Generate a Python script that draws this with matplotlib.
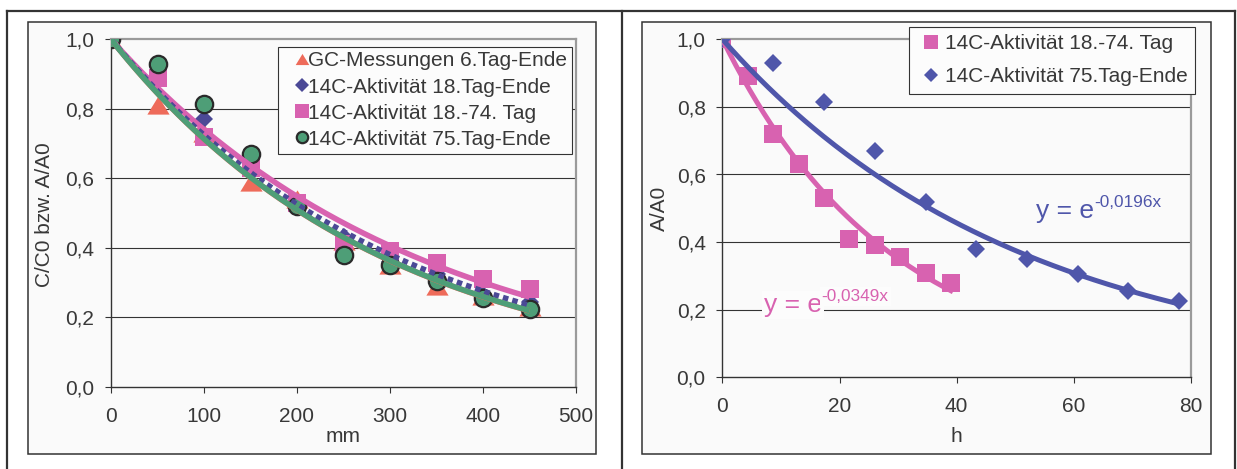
import numpy as np
import matplotlib
matplotlib.use("Agg")
import matplotlib.pyplot as plt
from matplotlib.patches import Rectangle
from matplotlib.lines import Line2D

plt.rcParams['font.family'] = ['Liberation Sans', 'DejaVu Sans']

# column positions (mm) and normalised concentrations / activities
mm_pos = [0, 50, 100, 150, 200, 250, 300, 350, 400, 450]
gc_6_ende = [1.0, 0.81, 0.73, 0.59, 0.54, 0.42, 0.35, 0.29, 0.26, 0.23]
act_18_ende = [1.0, 0.92, 0.77, 0.645, 0.53, 0.43, 0.36, 0.325, 0.265, 0.245]
act_18_74 = [1.0, 0.89, 0.72, 0.63, 0.53, 0.41, 0.39, 0.355, 0.31, 0.28]
act_75_ende = [1.0, 0.93, 0.815, 0.67, 0.52, 0.38, 0.35, 0.305, 0.255, 0.225]

# same activities against time (h)
hours_18_74 = [0, 4.3, 8.7, 13.0, 17.3, 21.7, 26.0, 30.3, 34.7, 39.0]
hours_75_ende = [0, 8.7, 17.3, 26.0, 34.7, 43.3, 52.0, 60.7, 69.3, 78.0]

# decay constants of the exponential trend lines (1/h)
k_18_74 = 0.0349
k_75_ende = 0.0196

left_labels = ['GC-Messungen 6.Tag-Ende', '14C-Aktivität 18.Tag-Ende',
               '14C-Aktivität 18.-74. Tag', '14C-Aktivität 75.Tag-Ende']
right_labels = ['14C-Aktivität 18.-74. Tag', '14C-Aktivität 75.Tag-Ende']
y_ticks = [0.0, 0.2, 0.4, 0.6, 0.8, 1.0]

RED = '#EE6B5A'
NAVY = '#4B4996'
PINK = '#D862B0'
GREEN = '#4E9E77'
BLUE = '#4F56AA'
DARK = '#333333'
TEXT = '#383838'
FS = 15

W, H = 1237, 469
TRI = [(0, 0.82), (-1, -0.82), (1, -0.82)]


def fx(px):
    return px / W


def fy(py):
    return 1 - py / H


def exp_fit(x, y):
    # exponential trend forced through y(0) = 1
    x = np.asarray(x, float)
    y = np.asarray(y, float)
    return -np.sum(x * np.log(y)) / np.sum(x * x)


def style_axes(ax, xmax, xstep):
    ax.set_facecolor('none')
    ax.set_xlim(0, xmax)
    ax.set_ylim(0, 1.0)
    ax.set_xticks(np.arange(0, xmax + 1, xstep))
    ax.set_yticks(y_ticks)
    ax.set_yticklabels([f'{v:.1f}'.replace('.', ',') for v in y_ticks])
    ax.tick_params(direction='out', length=4.5, width=0.8, color=DARK,
                   labelsize=FS, labelcolor=TEXT)
    ax.tick_params(axis='x', pad=10)
    ax.tick_params(axis='y', pad=7.5)
    for s in ('left', 'bottom'):
        ax.spines[s].set_color(DARK)
        ax.spines[s].set_linewidth(1.0)
    for s in ('top', 'right'):
        ax.spines[s].set_color('#9a9a9a')
        ax.spines[s].set_linewidth(1.6)
    for v in y_ticks[1:-1]:
        ax.axhline(v, color=DARK, lw=0.8, zorder=1)


def marker_key(**kw):
    return Line2D([], [], ls='none', **kw)


def boxed_legend(ax, handles, labels, anchor, **kw):
    leg = ax.legend(handles, labels, loc='upper left', bbox_to_anchor=anchor,
                    bbox_transform=fig.transFigure, borderaxespad=0,
                    fontsize=FS, frameon=True, fancybox=False, framealpha=1, **kw)
    leg.get_frame().set_edgecolor(DARK)
    leg.get_frame().set_linewidth(0.8)
    leg.get_frame().set_facecolor('#FCFCFC')
    for t in leg.get_texts():
        t.set_color(TEXT)
    return leg


fig = plt.figure(figsize=(W / 100, H / 100), dpi=100)
fig.patch.set_facecolor('white')

# chart area boxes
for x0, x1 in [(27.7, 595.5), (642, 1210.5)]:
    fig.add_artist(Rectangle((fx(x0), fy(454)), fx(x1) - fx(x0), fy(22) - fy(454),
                             transform=fig.transFigure, facecolor='#FAFAFA',
                             edgecolor=DARK, lw=1.1, zorder=-2))

# surrounding table frame
for xs, ys in [([7, 7], [11, 469]), ([622, 622], [11, 469]),
               ([1235, 1235], [11, 469]), ([7, 1235], [11, 11])]:
    fig.add_artist(Line2D([fx(v) for v in xs], [fy(v) for v in ys],
                          transform=fig.transFigure, color=DARK, lw=1.6))

# ---- left: concentration / activity vs. column position ----
ax1 = fig.add_axes([fx(111), fy(386.7), fx(576) - fx(111), fy(39.3) - fy(386.7)])
style_axes(ax1, 500, 100)

ax1.plot(mm_pos, gc_6_ende, ls='none', marker=TRI, ms=16, mew=0,
         color=RED, zorder=3)
ax1.plot(mm_pos, act_18_ende, ls='none', marker='D', ms=9.5, mew=0,
         color=NAVY, zorder=3)
ax1.plot(mm_pos, act_18_74, ls='none', marker='s', ms=13, mew=0,
         color=PINK, zorder=3)
ax1.plot(mm_pos, act_75_ende, ls='none', marker='o', ms=12.5, mew=1.6,
         mfc=GREEN, mec='#2a2a2a', zorder=3)

xfit = np.linspace(0, 450, 200)
ax1.plot(xfit, np.exp(-exp_fit(mm_pos, gc_6_ende) * xfit), color=RED,
         lw=4, solid_capstyle='butt', zorder=4)
ax1.plot(xfit, np.exp(-exp_fit(mm_pos, act_18_74) * xfit), color=PINK,
         lw=4, solid_capstyle='butt', zorder=4)
ax1.plot(xfit, np.exp(-exp_fit(mm_pos, act_18_ende) * xfit), color=NAVY,
         lw=4, dashes=(1, 0.75), dash_capstyle='butt', zorder=4)
ax1.plot(xfit, np.exp(-exp_fit(mm_pos, act_75_ende) * xfit), color=GREEN,
         lw=4, solid_capstyle='butt', zorder=4)

keys1 = [marker_key(marker=TRI, ms=9.8, mew=0, color=RED),
         marker_key(marker='D', ms=6.8, mew=0, color=NAVY),
         marker_key(marker='s', ms=10.5, mew=0, color=PINK),
         marker_key(marker='o', ms=8.2, mew=1.6, mfc=GREEN, mec='#2a2a2a')]
boxed_legend(ax1, keys1, left_labels, (fx(278.3), fy(46.7)),
             borderpad=0.23, labelspacing=0.34, handlelength=1.79,
             handletextpad=-0.58)

fig.text(fx(45), fy(215), 'C/C0 bzw. A/A0', rotation=90, ha='center', va='center',
         fontsize=FS, color=TEXT)
fig.text(fx(343), fy(436), 'mm', ha='center', va='center', fontsize=FS, color=TEXT)

# ---- right: activity vs. time ----
ax2 = fig.add_axes([fx(722.4), fy(377.3), fx(1190.9) - fx(722.4), fy(39.3) - fy(377.3)])
style_axes(ax2, 80, 20)

ax2.plot(hours_18_74, act_18_74, ls='none', marker='s', ms=13, mew=0,
         color=PINK, zorder=3)
ax2.plot(hours_75_ende, act_75_ende, ls='none', marker='D', ms=9.5, mew=0,
         color=BLUE, zorder=3)

tp = np.linspace(0, hours_18_74[-1], 200)
ax2.plot(tp, np.exp(-k_18_74 * tp), color=PINK, lw=3.6, zorder=4)
tb = np.linspace(0, hours_75_ende[-1], 200)
ax2.plot(tb, np.exp(-k_75_ende * tb), color=BLUE, lw=3.6, zorder=4)

keys2 = [marker_key(marker='s', ms=10, mew=0, color=PINK),
         marker_key(marker='D', ms=7.2, mew=0, color=BLUE)]
boxed_legend(ax2, keys2, right_labels, (fx(908.6), fy(26.7)),
             borderpad=0.37, labelspacing=0.65, handlelength=1.42,
             handletextpad=-0.05)


def equation(ax, x, y, k, color, box):
    bb = dict(facecolor='#FCFCFC', edgecolor='none', pad=1.5) if box else None
    base = ax.text(x, y, 'y = e', color=color, fontsize=19, ha='left',
                   va='baseline', bbox=bb, zorder=5)
    ax.annotate(f'-{k:.4f}x'.replace('.', ','), xy=(1, 1), xycoords=base,
                xytext=(0, 3), textcoords='offset points', ha='left', va='top',
                color=color, fontsize=12.4, bbox=bb, zorder=5)


equation(ax2, 7.05, 0.193, k_18_74, PINK, True)
equation(ax2, 53.55, 0.471, k_75_ende, BLUE, False)

fig.text(fx(659), fy(208.5), 'A/A0', rotation=90, ha='center', va='center',
         fontsize=FS, color=TEXT)
fig.text(fx(956.6), fy(436), 'h', ha='center', va='center', fontsize=FS, color=TEXT)

fig.savefig('out.png', dpi=100)
